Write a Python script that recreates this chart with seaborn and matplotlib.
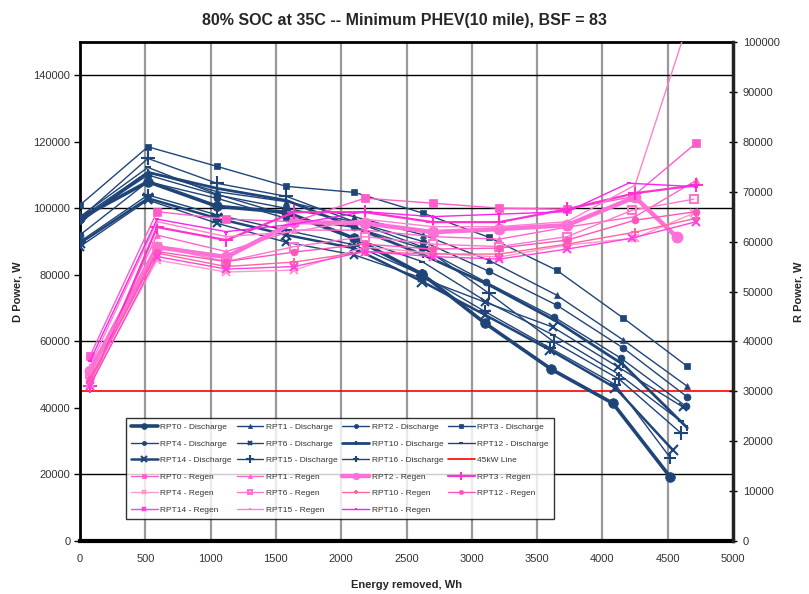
import matplotlib
matplotlib.use("Agg")
import matplotlib.pyplot as plt
import seaborn as sns
import pandas as pd
import numpy as np

sns.set_theme(style="white")
plt.rcParams['font.family'] = ['Liberation Sans', 'DejaVu Sans']

TITLE = "80% SOC at 35C -- Minimum PHEV(10 mile), BSF = 83"
X_LABEL = "Energy removed, Wh"
Y_LEFT_LABEL = "D Power, W"
Y_RIGHT_LABEL = "R Power, W"
LIMIT_W = 45000
LIMIT_LABEL = "45kW Line"

# Discharge (left axis)
dis_names = ["RPT0 - Discharge", "RPT1 - Discharge", "RPT2 - Discharge", "RPT3 - Discharge",
             "RPT4 - Discharge", "RPT6 - Discharge", "RPT10 - Discharge", "RPT12 - Discharge",
             "RPT14 - Discharge", "RPT15 - Discharge", "RPT16 - Discharge"]
dis_x = [
    [0, 520, 1050, 1580, 2100, 2620, 3100, 3610, 4080, 4520],
    [0, 520, 1050, 1580, 2100, 2630, 3130, 3650, 4160, 4650],
    [0, 520, 1050, 1580, 2100, 2630, 3130, 3650, 4160, 4650],
    [0, 520, 1050, 1580, 2100, 2630, 3130, 3650, 4160, 4650],
    [0, 520, 1050, 1580, 2100, 2620, 3110, 3630, 4140, 4640],
    [0, 520, 1050, 1580, 2100, 2620, 3100, 3620, 4120, 4620],
    [0, 520, 1050, 1580, 2100, 2630, 3130, 3650, 4160, 4650],
    [0, 520, 1050, 1580, 2100, 2620, 3110, 3620, 4130, 4600],
    [0, 520, 1050, 1580, 2100, 2620, 3100, 3600, 4100, 4540],
    [0, 520, 1050, 1580, 2100, 2630, 3130, 3630, 4130, 4600],
    [0, 520, 1050, 1580, 2100, 2620, 3100, 3600, 4100, 4520],
]
dis_y = [
    [97000, 108000, 100600, 98800, 91000, 80200, 65500, 51600, 41400, 19200],
    [97000, 111000, 105000, 102000, 97500, 92000, 84400, 73900, 60400, 46500],
    [96500, 110000, 104000, 100000, 96000, 90000, 81100, 70900, 58000, 43300],
    [101000, 118500, 112600, 106600, 104800, 98500, 91300, 81400, 67000, 52500],
    [92000, 108000, 103000, 97000, 94300, 88000, 77800, 67300, 55000, 40500],
    [88500, 102500, 95500, 89800, 86000, 79000, 71800, 64300, 52300, 40200],
    [96000, 110800, 106000, 102400, 94300, 86000, 77000, 66000, 53000, 34000],
    [97500, 112300, 104200, 98000, 91000, 84000, 72000, 62000, 50000, 36000],
    [89500, 103000, 97000, 92000, 88000, 78000, 68000, 57400, 46000, 27300],
    [97000, 115000, 107500, 103600, 96000, 88300, 74500, 59800, 48600, 32500],
    [90000, 104000, 98000, 93400, 89000, 80000, 69000, 58000, 47000, 25000],
]
dis_markers = ["o", "^", "o", "s", "o", "x", "|", "_", "x", "+", "+"]
dis_msize = [7, 5, 5, 5, 5, 6, 4, 4, 7, 10, 8]
dis_lw = [2.6, 1.0, 1.0, 1.0, 1.0, 1.0, 2.0, 1.0, 1.8, 1.0, 1.0]

# Regen (right axis)
reg_names = ["RPT0 - Regen", "RPT1 - Regen", "RPT2 - Regen", "RPT3 - Regen",
             "RPT4 - Regen", "RPT6 - Regen", "RPT10 - Regen", "RPT12 - Regen",
             "RPT14 - Regen", "RPT15 - Regen", "RPT16 - Regen"]
reg_x = [
    [75, 590, 1120, 1640, 2180, 2700, 3210, 3730, 4230, 4720],
    [75, 590, 1120, 1640, 2180, 2700, 3210, 3730, 4250, 4720],
    [75, 590, 1120, 1640, 2180, 2700, 3210, 3730, 4250, 4570],
    [75, 590, 1120, 1640, 2180, 2700, 3210, 3730, 4250, 4720],
    [75, 590, 1120, 1640, 2180, 2700, 3210, 3730, 4250, 4700],
    [75, 590, 1120, 1640, 2180, 2700, 3210, 3730, 4230, 4700],
    [75, 590, 1120, 1640, 2180, 2700, 3210, 3730, 4250, 4720],
    [75, 590, 1120, 1640, 2180, 2700, 3210, 3730, 4250, 4720],
    [75, 590, 1120, 1640, 2180, 2700, 3210, 3730, 4230, 4720],
    [75, 590, 1120, 1640, 2180, 2700, 3210, 3730, 4250, 4720],
    [75, 590, 1120, 1640, 2180, 2700, 3210, 3730, 4200, 4720],
]
reg_y = [
    [37000, 66000, 64500, 64000, 68700, 67700, 66700, 66500, 69000, 79800],
    [33000, 61300, 58000, 62300, 62300, 61000, 60500, 62900, 65000, 72300],
    [34000, 58900, 56900, 63900, 63700, 61900, 62500, 63300, 68900, 60900],
    [31000, 62900, 60300, 65900, 65900, 63900, 63900, 66500, 69700, 71300],
    [31500, 56300, 53900, 54300, 58900, 57700, 56900, 59300, 60700, 65700],
    [33500, 59000, 56000, 59000, 61000, 59500, 59000, 61000, 66300, 68500],
    [32000, 57700, 55000, 55900, 58000, 57500, 57500, 59500, 61900, 64700],
    [32500, 58000, 56000, 57900, 59500, 58500, 58700, 60300, 64300, 66000],
    [31000, 57000, 54500, 55000, 58000, 57000, 56500, 58500, 60700, 64000],
    [35000, 64000, 61000, 62000, 64500, 63000, 63000, 64000, 71300, 109000],
    [36000, 64500, 62000, 63500, 66000, 65000, 65500, 66000, 71700, 71000],
]
reg_markers = ["s", "^", "o", "+", "x", "s", "+", "o", "x", "|", "_"]
reg_msize = [6, 5, 8, 10, 6, 6, 6, 5, 6, 3, 3]
reg_lw = [1.0, 1.0, 3.2, 1.6, 1.0, 1.0, 1.0, 1.0, 1.0, 1.0, 1.0]
reg_colors = ["#FF5CC8", "#FF66CC", "#FF6FD8", "#FF33CC", "#FF99CC", "#FF77CC",
              "#FF6699", "#FF55BB", "#FF44DD", "#FF80D0", "#FF22EE"]
reg_fill = [True, True, True, True, True, False, True, True, True, True, True]

NAVY = "#1F4578"

fig = plt.figure(figsize=(8.09, 5.94), dpi=100)
ax = fig.add_axes([80/809, 1-541/594, 653/809, 499/594])
ax2 = ax.twinx()

# grid
for gx in range(500, 5000, 500):
    ax.axvline(gx, color="#999999", lw=1.6, zorder=0)
for gy in [20000, 60000, 100000, 140000]:
    ax.axhline(gy, color="black", lw=1.0, zorder=0)

handles = {}
for name, xs, ys, mk, ms, lw in zip(dis_names, dis_x, dis_y, dis_markers, dis_msize, dis_lw):
    df = pd.DataFrame({"x": xs, "y": ys})
    sns.lineplot(data=df, x="x", y="y", ax=ax, color=NAVY, lw=lw, marker=mk, markersize=ms,
                 markeredgecolor=NAVY, markeredgewidth=1.5 if mk in "x+|_" else 0.5,
                 sort=False, estimator=None, legend=False, zorder=3)
    handles[name] = ax.lines[-1]

lim = ax.axhline(LIMIT_W, color="red", lw=1.2, zorder=2)
handles[LIMIT_LABEL] = lim

for name, xs, ys, mk, ms, lw, c, f in zip(reg_names, reg_x, reg_y, reg_markers, reg_msize,
                                          reg_lw, reg_colors, reg_fill):
    df = pd.DataFrame({"x": xs, "y": ys})
    sns.lineplot(data=df, x="x", y="y", ax=ax2, color=c, lw=lw, marker=mk, markersize=ms,
                 markeredgecolor=c, markerfacecolor=c if f else "none",
                 markeredgewidth=1.5 if (mk in "x+|_" or not f) else 0.5,
                 sort=False, estimator=None, legend=False, zorder=3)
    handles[name] = ax2.lines[-1]

ax.set_xlim(0, 5000)
ax.set_ylim(0, 150000)
ax2.set_ylim(0, 100000)
ax.set_xticks(np.arange(0, 5001, 500))
ax.set_yticks(np.arange(0, 140001, 20000))
ax2.set_yticks(np.arange(0, 100001, 10000))

tick_kw = dict(labelsize=8, labelcolor="#333333", colors="black")
ax.tick_params(axis="x", direction="out", length=4, width=1, pad=5, **tick_kw)
ax.tick_params(axis="y", direction="out", length=4, width=1, pad=3, left=True, **tick_kw)
ax2.tick_params(axis="y", direction="inout", length=6, width=1, pad=4, right=True, **tick_kw)

for s in ["left", "top"]:
    ax.spines[s].set_color("black"); ax.spines[s].set_linewidth(2)
ax.spines["bottom"].set_color("black"); ax.spines["bottom"].set_linewidth(3)
ax.spines["right"].set_visible(False)
for s in ["left", "top", "bottom"]:
    ax2.spines[s].set_visible(False)
ax2.spines["right"].set_color("#222222"); ax2.spines["right"].set_linewidth(2.5)

ax.set_xlabel(X_LABEL, fontsize=8, fontweight="bold", labelpad=12)
ax.set_ylabel(Y_LEFT_LABEL, fontsize=8, fontweight="bold", labelpad=8)
ax2.set_ylabel(Y_RIGHT_LABEL, fontsize=8, fontweight="bold", labelpad=10)
fig.suptitle(TITLE, fontsize=11.5, fontweight="bold", y=0.978)

# Legend (row-major order in reference, 4 columns)
order = dis_names + [LIMIT_LABEL] + reg_names
ncol = 4
nrows = int(np.ceil(len(order) / ncol))
col_major = []
for c in range(ncol):
    for r in range(nrows):
        i = r * ncol + c
        if i < len(order):
            col_major.append(order[i])
leg = ax2.legend([handles[n] for n in col_major], col_major, ncol=ncol,
                 loc="lower left", bbox_to_anchor=(0.064, 0.036, 0.668, 0.223), mode="expand",
                 fontsize=6, frameon=True, fancybox=False, edgecolor="black",
                 handlelength=3.2, handletextpad=0.3, columnspacing=0.8,
                 labelspacing=1.05, borderpad=0.6, markerscale=0.6)
leg.get_frame().set_linewidth(1.0)
for t in leg.get_texts():
    t.set_color("#333333")

fig.savefig("out.png", dpi=100)
